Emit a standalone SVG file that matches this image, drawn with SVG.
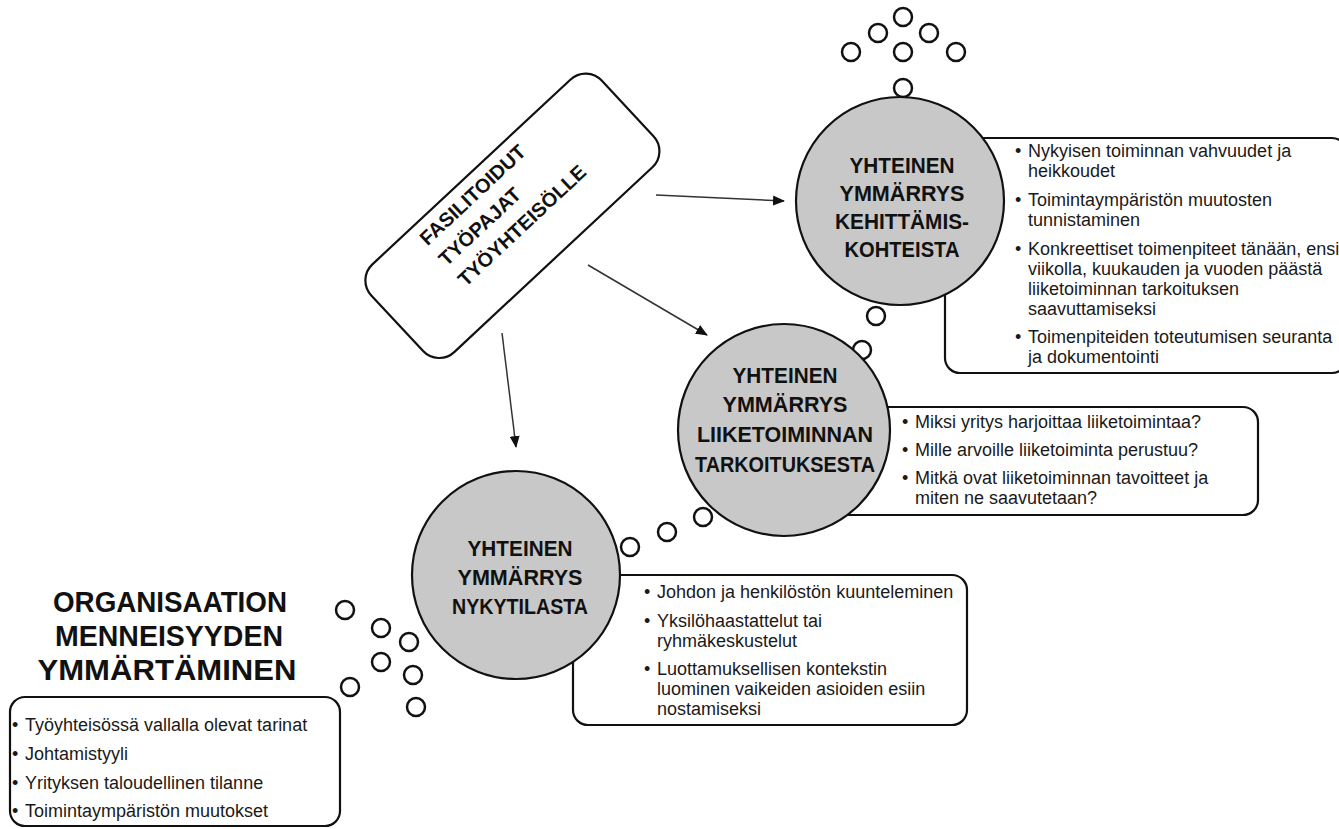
<svg xmlns="http://www.w3.org/2000/svg" width="1339" height="829" viewBox="0 0 1339 829">
  <style>
    .bub { fill: #ffffff; stroke: #111111; stroke-width: 2.5; }
    .circ { fill: #c8c8c8; stroke: #111111; stroke-width: 2.2; }
    .box { fill: #ffffff; stroke: #111111; stroke-width: 2.2; }
    .title { font-family: "Liberation Sans", Arial, sans-serif; font-weight: bold; font-size: 22px; fill: #111111; text-anchor: middle; }
    .big { font-family: "Liberation Sans", Arial, sans-serif; font-weight: bold; font-size: 29px; fill: #111111; text-anchor: middle; }
    .rot { font-family: "Liberation Sans", Arial, sans-serif; font-weight: bold; font-size: 20px; fill: #111111; }
    .body { font-family: "Liberation Sans", Arial, sans-serif; font-size: 18px; fill: #1a1a1a; }
    .conn { stroke: #333333; stroke-width: 1.5; fill: none; marker-end: url(#arr); }
  </style>
  <defs>
    <marker id="arr" viewBox="0 0 12 10" refX="11" refY="5" markerWidth="12" markerHeight="10" markerUnits="userSpaceOnUse" orient="auto">
      <path d="M0,0 L12,5 L0,10 z" fill="#111111"/>
    </marker>
  </defs>
  <rect width="1339" height="829" fill="#ffffff"/>

  <g id="connectors">
    <line class="conn" x1="656" y1="195" x2="784" y2="201"/>
    <line class="conn" x1="588" y1="265" x2="707" y2="335"/>
    <line class="conn" x1="502" y1="333" x2="516" y2="447"/>
  </g>

  <g id="workshops" transform="translate(512.4,215.8) rotate(-43)">
    <rect class="box" x="-157.5" y="-60" width="315" height="120" rx="22"/>
    <text class="rot" x="-83" y="-35.5">FASILITOIDUT</text>
    <text class="rot" x="-83" y="-7.5">TYÖPAJAT</text>
    <text class="rot" x="-83" y="20.5">TYÖYHTEISÖLLE</text>
  </g>

  <g id="top-bubbles">
    <circle class="bub" cx="903" cy="17" r="9"/>
    <circle class="bub" cx="878" cy="33" r="9"/>
    <circle class="bub" cx="929" cy="33" r="9"/>
    <circle class="bub" cx="851" cy="52" r="9"/>
    <circle class="bub" cx="903" cy="52" r="9"/>
    <circle class="bub" cx="956" cy="52" r="9"/>
    <circle class="bub" cx="903" cy="88" r="9"/>
  </g>

  <g id="node-kehittamiskohteet">
    <rect class="box" x="945" y="138" width="402" height="235" rx="15"/>
    <circle class="circ" cx="900" cy="201" r="104"/>
    <text class="title" x="902" y="173" textLength="105" lengthAdjust="spacingAndGlyphs">YHTEINEN</text>
    <text class="title" x="902" y="201" textLength="125" lengthAdjust="spacingAndGlyphs">YMMÄRRYS</text>
    <text class="title" x="902" y="229" textLength="134" lengthAdjust="spacingAndGlyphs">KEHITTÄMIS-</text>
    <text class="title" x="902" y="257" textLength="115" lengthAdjust="spacingAndGlyphs">KOHTEISTA</text>
    <g class="body">
      <text x="1015" y="157">•</text><text x="1028" y="157">Nykyisen toiminnan vahvuudet ja</text>
      <text x="1028" y="177">heikkoudet</text>
      <text x="1015" y="206">•</text><text x="1028" y="206">Toimintaympäristön muutosten</text>
      <text x="1028" y="226">tunnistaminen</text>
      <text x="1015" y="255">•</text><text x="1028" y="255">Konkreettiset toimenpiteet tänään, ensi</text>
      <text x="1028" y="275">viikolla, kuukauden ja vuoden päästä</text>
      <text x="1028" y="295">liiketoiminnan tarkoituksen</text>
      <text x="1028" y="315">saavuttamiseksi</text>
      <text x="1015" y="343">•</text><text x="1028" y="343">Toimenpiteiden toteutumisen seuranta</text>
      <text x="1028" y="363">ja dokumentointi</text>
    </g>
  </g>

  <g id="bubbles-mid">
    <circle class="bub" cx="876" cy="316" r="9"/>
    <circle class="bub" cx="862" cy="350" r="9"/>
  </g>

  <g id="node-tarkoitus">
    <rect class="box" x="800" y="407" width="458" height="108" rx="15"/>
    <circle class="circ" cx="784" cy="430" r="106"/>
    <text class="title" x="785" y="383" textLength="105" lengthAdjust="spacingAndGlyphs">YHTEINEN</text>
    <text class="title" x="785" y="412" textLength="125" lengthAdjust="spacingAndGlyphs">YMMÄRRYS</text>
    <text class="title" x="785" y="442" textLength="176" lengthAdjust="spacingAndGlyphs">LIIKETOIMINNAN</text>
    <text class="title" x="785" y="472" textLength="180" lengthAdjust="spacingAndGlyphs">TARKOITUKSESTA</text>
    <g class="body">
      <text x="902" y="428">•</text><text x="915" y="428">Miksi yritys harjoittaa liiketoimintaa?</text>
      <text x="902" y="456">•</text><text x="915" y="456">Mille arvoille liiketoiminta perustuu?</text>
      <text x="902" y="484">•</text><text x="915" y="484">Mitkä ovat liiketoiminnan tavoitteet ja</text>
      <text x="915" y="504">miten ne saavutetaan?</text>
    </g>
  </g>

  <g id="bubbles-low">
    <circle class="bub" cx="703" cy="517" r="9"/>
    <circle class="bub" cx="667" cy="532" r="9"/>
    <circle class="bub" cx="630" cy="547" r="9"/>
  </g>

  <g id="node-nykytila">
    <rect class="box" x="573" y="575" width="394" height="150" rx="15"/>
    <circle class="circ" cx="516" cy="575" r="104"/>
    <text class="title" x="520" y="556" textLength="105" lengthAdjust="spacingAndGlyphs">YHTEINEN</text>
    <text class="title" x="520" y="585" textLength="125" lengthAdjust="spacingAndGlyphs">YMMÄRRYS</text>
    <text class="title" x="520" y="614" textLength="136" lengthAdjust="spacingAndGlyphs">NYKYTILASTA</text>
    <g class="body">
      <text x="644" y="598">•</text><text x="657" y="598">Johdon ja henkilöstön kuunteleminen</text>
      <text x="644" y="627">•</text><text x="657" y="627">Yksilöhaastattelut tai</text>
      <text x="657" y="647">ryhmäkeskustelut</text>
      <text x="644" y="675">•</text><text x="657" y="675">Luottamuksellisen kontekstin</text>
      <text x="657" y="695">luominen vaikeiden asioiden esiin</text>
      <text x="657" y="715">nostamiseksi</text>
    </g>
  </g>

  <g id="bubbles-left">
    <circle class="bub" cx="345" cy="610" r="9"/>
    <circle class="bub" cx="381" cy="628" r="9"/>
    <circle class="bub" cx="409" cy="642" r="9"/>
    <circle class="bub" cx="381" cy="662" r="9"/>
    <circle class="bub" cx="413" cy="675" r="9"/>
    <circle class="bub" cx="350" cy="687" r="9"/>
    <circle class="bub" cx="416" cy="707" r="9"/>
  </g>

  <g id="node-menneisyys">
    <text class="big" x="170" y="612" textLength="234" lengthAdjust="spacingAndGlyphs">ORGANISAATION</text>
    <text class="big" x="169" y="646" textLength="228" lengthAdjust="spacingAndGlyphs">MENNEISYYDEN</text>
    <text class="big" x="167" y="680" textLength="259" lengthAdjust="spacingAndGlyphs">YMMÄRTÄMINEN</text>
    <rect class="box" x="10" y="697" width="330" height="129" rx="15"/>
    <g class="body">
      <text x="12" y="731">•</text><text x="25" y="731">Työyhteisössä vallalla olevat tarinat</text>
      <text x="12" y="760">•</text><text x="25" y="760">Johtamistyyli</text>
      <text x="12" y="789">•</text><text x="25" y="789">Yrityksen taloudellinen tilanne</text>
      <text x="12" y="817">•</text><text x="25" y="817">Toimintaympäristön muutokset</text>
    </g>
  </g>
</svg>
